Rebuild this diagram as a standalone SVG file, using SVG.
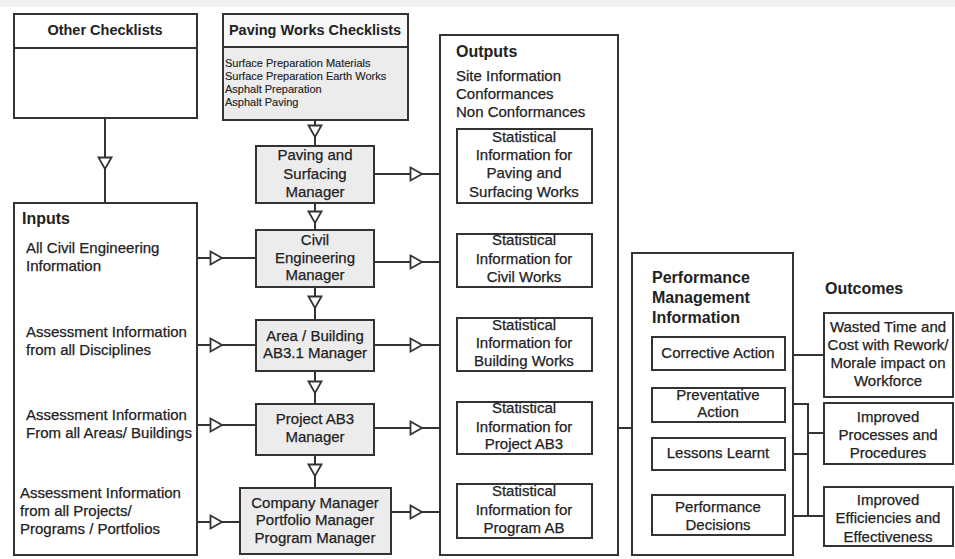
<svg xmlns="http://www.w3.org/2000/svg" xmlns:xlink="http://www.w3.org/1999/xlink" width="955" height="559" viewBox="0 0 955 559">
<style>
text{font-family:"Liberation Sans",Arial,sans-serif;fill:#222;font-size:15px;stroke:#222;stroke-width:0.25}
.h{font-weight:bold;font-size:16px;stroke-width:0}
.hs{font-weight:bold;font-size:14.5px;stroke-width:0}
.sm{font-size:11px;stroke-width:0.15}
.c{text-anchor:middle}
.box{fill:#fff;stroke:#333;stroke-width:2}
.gbox{fill:#ececec;stroke:#333;stroke-width:2}
.ln{fill:none;stroke:#333;stroke-width:2}
.tri{fill:#fff;stroke:#333;stroke-width:1.8;stroke-linejoin:miter}
</style>
<defs>
<path id="td" d="M-6.5,-5.5 L6.5,-5.5 L0,6 Z"/>
</defs>
<rect x="0" y="0" width="955" height="559" fill="#fff"/>
<rect x="0" y="0" width="955" height="7" fill="#f1f1f1"/>

<g id="connectors">
<path class="ln" d="M105,118 V203"/>
<path class="ln" d="M315,120 V146 M315,203 V230 M315,287 V320 M315,371 V404 M315,455 V488"/>
<path class="ln" d="M374,174 H457 M374,262 H457 M374,345 H457 M374,428 H457 M391,512 H457"/>
<path class="ln" d="M157,258 H256 M157,345 H256 M165,425 H256 M157,522 H240"/>
<path class="ln" d="M524,203 V234 M524,287 V318 M524,371 V402 M524,454 V484"/>
<path class="ln" d="M592,165 H607 V511 H592 M592,261 H607 M592,345 H607 M592,428 H639"/>
<path class="ln" d="M652,353 H639 V516 H652 M639,404 H652 M639,454 H652"/>
<path class="ln" d="M785,355 H824 M785,404 H808 V516 M785,454 H808 M785,516 H824 M808,433 H824"/>
<g class="tri">
<use xlink:href="#td" transform="translate(105,163)"/>
<use xlink:href="#td" transform="translate(315,131)"/>
<use xlink:href="#td" transform="translate(315,217)"/>
<use xlink:href="#td" transform="translate(315,302)"/>
<use xlink:href="#td" transform="translate(315,387)"/>
<use xlink:href="#td" transform="translate(315,470)"/>
<use xlink:href="#td" transform="translate(524,218)"/>
<use xlink:href="#td" transform="translate(524,302)"/>
<use xlink:href="#td" transform="translate(524,386)"/>
<use xlink:href="#td" transform="translate(524,468)"/>
<use xlink:href="#td" transform="translate(416,174) rotate(-90)"/>
<use xlink:href="#td" transform="translate(416,262) rotate(-90)"/>
<use xlink:href="#td" transform="translate(416,345) rotate(-90)"/>
<use xlink:href="#td" transform="translate(416,428) rotate(-90)"/>
<use xlink:href="#td" transform="translate(416,512) rotate(-90)"/>
<use xlink:href="#td" transform="translate(216,258) rotate(-90)"/>
<use xlink:href="#td" transform="translate(216,345) rotate(-90)"/>
<use xlink:href="#td" transform="translate(216,425) rotate(-90)"/>
<use xlink:href="#td" transform="translate(216,522) rotate(-90)"/>
</g>
</g>

<g id="other-checklists">
<rect class="box" x="14" y="14" width="183" height="104"/>
<path class="ln" d="M14,48 H197"/>
<text class="hs c" x="105" y="35">Other Checklists</text>
</g>

<g id="paving-checklists">
<rect class="gbox" x="223" y="14" width="185" height="106"/>
<rect x="224" y="15" width="183" height="32" fill="#f8f8f8"/>
<path class="ln" d="M223,47 H408"/>
<text class="hs c" x="315" y="35">Paving Works Checklists</text>
<text class="sm" x="225" y="67">Surface Preparation Materials</text>
<text class="sm" x="225" y="80">Surface Preparation Earth Works</text>
<text class="sm" x="225" y="93">Asphalt Preparation</text>
<text class="sm" x="225" y="106">Asphalt Paving</text>
</g>

<g id="inputs">
<rect class="box" x="14" y="203" width="183" height="352"/>
<text class="h" x="22" y="224">Inputs</text>
<text x="26" y="253">All Civil Engineering</text>
<text x="26" y="271">Information</text>
<text x="26" y="337">Assessment Information</text>
<text x="26" y="355">from all Disciplines</text>
<text x="26" y="420">Assessment Information</text>
<text x="26" y="438">From all Areas/ Buildings</text>
<text x="20" y="498">Assessment Information</text>
<text x="20" y="516">from all Projects/</text>
<text x="20" y="534">Programs / Portfolios</text>
</g>

<g id="paving-manager">
<rect class="gbox" x="256" y="146" width="118" height="57"/>
<text class="c" x="315" y="160">Paving and</text>
<text class="c" x="315" y="179">Surfacing</text>
<text class="c" x="315" y="197">Manager</text>
</g>
<g id="civil-manager">
<rect class="gbox" x="256" y="230" width="118" height="57"/>
<text class="c" x="315" y="245">Civil</text>
<text class="c" x="315" y="263">Engineering</text>
<text class="c" x="315" y="280">Manager</text>
</g>
<g id="area-manager">
<rect class="gbox" x="256" y="320" width="118" height="51"/>
<text class="c" x="315" y="341">Area / Building</text>
<text class="c" x="315" y="358">AB3.1 Manager</text>
</g>
<g id="project-manager">
<rect class="gbox" x="256" y="404" width="118" height="51"/>
<text class="c" x="315" y="424">Project AB3</text>
<text class="c" x="315" y="442">Manager</text>
</g>
<g id="company-manager">
<rect class="gbox" x="240" y="488" width="151" height="66"/>
<text class="c" x="315" y="508">Company Manager</text>
<text class="c" x="315" y="525">Portfolio Manager</text>
<text class="c" x="315" y="543">Program Manager</text>
</g>

<g id="outputs">
<rect class="box" x="440" y="35" width="178" height="520" fill="none"/>
<text class="h" x="456" y="57">Outputs</text>
<text x="456" y="81">Site Information</text>
<text x="456" y="99">Conformances</text>
<text x="456" y="117">Non Conformances</text>
</g>

<g id="stat-paving">
<rect class="box" x="457" y="129" width="135" height="74"/>
<text class="c" x="524" y="142">Statistical</text>
<text class="c" x="524" y="160">Information for</text>
<text class="c" x="524" y="178">Paving and</text>
<text class="c" x="524" y="197">Surfacing Works</text>
</g>
<g id="stat-civil">
<rect class="box" x="457" y="234" width="135" height="53"/>
<text class="c" x="524" y="245">Statistical</text>
<text class="c" x="524" y="264">Information for</text>
<text class="c" x="524" y="282">Civil Works</text>
</g>
<g id="stat-building">
<rect class="box" x="457" y="318" width="135" height="53"/>
<text class="c" x="524" y="330">Statistical</text>
<text class="c" x="524" y="348">Information for</text>
<text class="c" x="524" y="366">Building Works</text>
</g>
<g id="stat-project">
<rect class="box" x="457" y="402" width="135" height="52"/>
<text class="c" x="524" y="413">Statistical</text>
<text class="c" x="524" y="432">Information for</text>
<text class="c" x="524" y="449">Project AB3</text>
</g>
<g id="stat-program">
<rect class="box" x="457" y="484" width="135" height="54"/>
<text class="c" x="524" y="496">Statistical</text>
<text class="c" x="524" y="515">Information for</text>
<text class="c" x="524" y="533">Program AB</text>
</g>

<g id="performance">
<rect class="box" x="632" y="253" width="161" height="302" fill="none"/>
<text class="h" x="652" y="283">Performance</text>
<text class="h" x="652" y="303">Management</text>
<text class="h" x="652" y="323">Information</text>
</g>
<g id="corrective">
<rect class="box" x="652" y="337" width="133" height="33"/>
<text class="c" x="718" y="358">Corrective Action</text>
</g>
<g id="preventative">
<rect class="box" x="652" y="388" width="133" height="34"/>
<text class="c" x="718" y="400">Preventative</text>
<text class="c" x="718" y="417">Action</text>
</g>
<g id="lessons">
<rect class="box" x="652" y="438" width="133" height="32"/>
<text class="c" x="718" y="458">Lessons Learnt</text>
</g>
<g id="decisions">
<rect class="box" x="652" y="495" width="133" height="40"/>
<text class="c" x="718" y="512">Performance</text>
<text class="c" x="718" y="530">Decisions</text>
</g>

<g id="outcomes-title">
<text class="h" x="825" y="294">Outcomes</text>
</g>
<g id="outcome-wasted">
<rect class="box" x="824" y="313" width="129" height="84"/>
<text class="c" x="888" y="332">Wasted Time and</text>
<text class="c" x="888" y="350">Cost with Rework/</text>
<text class="c" x="888" y="368">Morale impact on</text>
<text class="c" x="888" y="386">Workforce</text>
</g>
<g id="outcome-processes">
<rect class="box" x="824" y="403" width="129" height="61"/>
<text class="c" x="888" y="422">Improved</text>
<text class="c" x="888" y="440">Processes and</text>
<text class="c" x="888" y="458">Procedures</text>
</g>
<g id="outcome-efficiencies">
<rect class="box" x="824" y="487" width="129" height="59"/>
<text class="c" x="888" y="505">Improved</text>
<text class="c" x="888" y="523">Efficiencies and</text>
<text class="c" x="888" y="542">Effectiveness</text>
</g>
</svg>
